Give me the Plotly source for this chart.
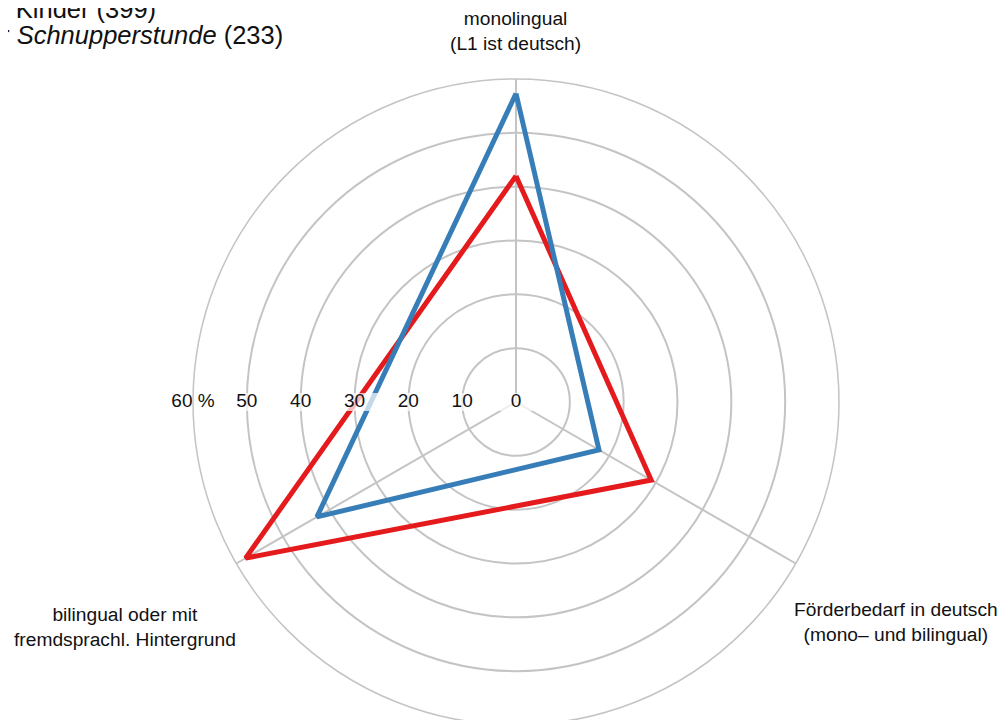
import plotly.graph_objects as go

# ---- data ----
categories = ["monolingual<br>(L1 ist deutsch)",
              "Förderbedarf in deutsch<br>(mono– und bilingual)",
              "bilingual oder mit<br>fremdsprachl. Hintergrund"]
series_names = ["alle Kinder (399)", "Kinder in der <i>Schnupperstunde</i> (233)"]
red_values = [42.0, 29.0, 58.0]
blue_values = [57.3, 17.8, 42.7]
radial_ticks = [0, 10, 20, 30, 40, 50, 60]
radial_tick_labels = ["0", "10", "20", "30", "40", "50", "60 %"]

# ---- styling / geometry ----
FONT = "Liberation Sans, Arial, Helvetica, sans-serif"
RED = "#e41a1c"
BLUE = "#377eb8"
GRID = "#c4c4c4"
OFF = 8                       # page body margin
FW, FH = 998, 740             # figure size (bottom is cropped by the window)
CX, CY, R = 516, 402, 323     # wanted centre / radius in window pixels
axis_angles = [90, 330, 210]


def px(x):
    return (x - OFF) / FW


def py(y):
    return 1 - (y - OFF) / FH


def closed(v):
    return list(v) + [v[0]]


fig = go.Figure()

fig.add_trace(go.Scatterpolar(
    r=closed(red_values), theta=closed(axis_angles), mode="lines",
    line=dict(color=RED, width=5), name=series_names[0], showlegend=False))
fig.add_trace(go.Scatterpolar(
    r=closed(blue_values), theta=closed(axis_angles), mode="lines",
    line=dict(color=BLUE, width=5), name=series_names[1], showlegend=False))

# white boxes behind radial tick labels
label_widths = [14 + 10.5 * len(t) for t in radial_tick_labels]
fig.add_trace(go.Scatterpolar(
    r=radial_ticks, theta=[180] * len(radial_ticks), mode="markers",
    marker=dict(symbol="line-ew", size=label_widths, color="white",
                line=dict(color="white", width=18)),
    hoverinfo="skip", showlegend=False, cliponaxis=False))
fig.add_trace(go.Scatterpolar(
    r=radial_ticks, theta=[180] * len(radial_ticks), mode="text",
    text=radial_tick_labels, textposition="middle center",
    textfont=dict(family=FONT, size=19, color="#111111"),
    hoverinfo="skip", showlegend=False, cliponaxis=False))

fig.update_layout(
    width=FW, height=FH,
    margin=dict(l=0, r=0, t=0, b=0),
    paper_bgcolor="white",
    font=dict(family=FONT, size=19, color="#111111"),
    showlegend=False,
    polar=dict(
        domain=dict(x=[px(CX - R), px(CX + R)], y=[py(CY + R), py(CY - R)]),
        bgcolor="white",
        radialaxis=dict(range=[0, 60], tickvals=radial_ticks[1:], showgrid=True,
                        gridcolor=GRID, gridwidth=1.5, showline=False,
                        showticklabels=False, ticks="", angle=180),
        angularaxis=dict(direction="counterclockwise", rotation=0,
                         tickvals=axis_angles, showgrid=True, gridcolor=GRID,
                         gridwidth=1.5, showline=True, linecolor=GRID, linewidth=1.5,
                         showticklabels=False, ticks=""),
    ),
)

# category labels
cat_pos = [(516, 31), (896, 622), (125, 627)]
for text, (x, y) in zip(categories, cat_pos):
    fig.add_annotation(text=text, x=px(x), y=py(y), xref="paper", yref="paper",
                       xanchor="center", yanchor="middle", showarrow=False,
                       font=dict(family=FONT, size=19.2, color="#111111"), align="center")

# legend text (cropped at the left edge as in the reference)
leg_pos = [(158, 9), (285, 35)]
for text, (x, y) in zip(series_names, leg_pos):
    fig.add_annotation(text=text, x=px(x), y=py(y), xref="paper", yref="paper",
                       xanchor="right", yanchor="middle", showarrow=False,
                       font=dict(family=FONT, size=25.5, color="#111111"), align="left")

fig.write_html("out.html")
